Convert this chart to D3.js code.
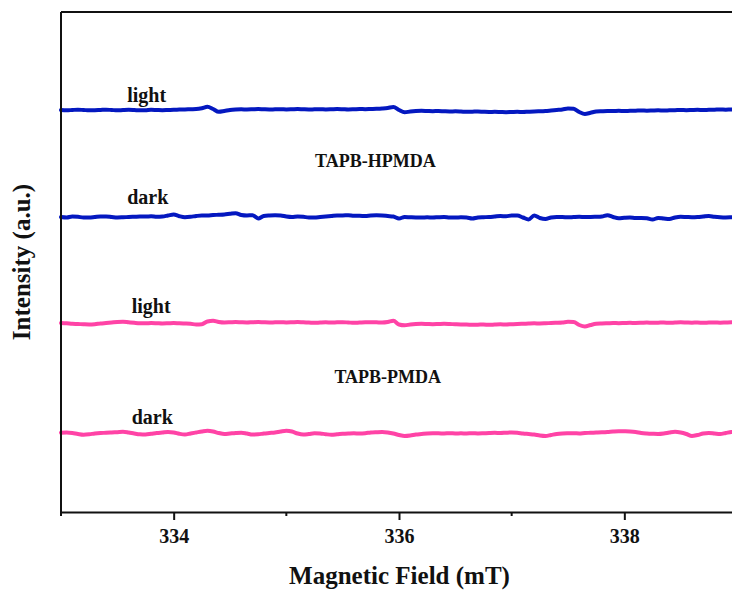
<!DOCTYPE html>
<html>
<head>
<meta charset="utf-8">
<script src="https://cdn.jsdelivr.net/npm/d3@7"></script>
<style>
  html, body { margin: 0; padding: 0; background: #fff; overflow: hidden; }
  svg { display: block; }
  text { font-family: "Liberation Serif", "Times New Roman", serif; font-weight: bold; fill: #111; }
</style>
</head>
<body>
<svg id="chart" width="732" height="590"></svg>
<script>
// Magnetic field sampling grid (mT), 0.05 mT steps
const field = d3.range(0, 121).map(i => +(333 + i * 0.05).toFixed(2));

// EPR signal traces (a.u.), deviation from each trace's baseline
const hpmdaLight = [
  0, -0.3, 0, 0.3, 0, -0.3, -0.2, 0, 0.3, 0,
  -0.3, 0, 0.2, 0, -0.3, -0.2, 0.2, 0, -0.2, 0,
  0.2, 0.4, 0.5, 0.8, 1, 1.8, 3.2, 1, -1.8, -1,
  0, 0.5, 0.7, 0.5, 0.7, 1, 0.7, 0.5, 0.7, 0.8,
  0.5, 0.7, 1, 0.7, 0.5, 0.7, 0.8, 0.5, 0.7, 1,
  0.8, 0.5, 0.7, 1, 0.8, 1, 1.2, 1.5, 2, 3,
  0, -2.3, -1.5, -1, -0.8, -1, -1.2, -1, -1.3, -1.5,
  -1.3, -1.5, -1.8, -1.7, -1.5, -1.8, -2, -1.8, -2, -2.2,
  -2, -1.8, -2, -1.7, -1.5, -1.3, -1, -0.5, 0, 0.5,
  1.5, 1.2, -2, -4, -2.8, -1.5, -1.2, -1, -1, -0.8,
  -1, -0.8, -0.7, -0.5, -0.7, -0.5, -0.3, -0.5, -0.3, -0.2,
  0, -0.2, 0, 0.2, 0, 0.2, 0.3, 0.5, 0.3, 0.5,
  0.5
];
const hpmdaDark = [
  0, -0.5, 0.5, 0.2, -0.5, -0.5, 0, 0.5, 0.5, 0,
  -0.5, -0.3, 0, 0.2, 0.5, 0.5, 0.7, 0.2, 0.5, 1.5,
  2.5, 0.8, -0.2, 0.2, 1, 1.5, 1.5, 2, 2.2, 2.5,
  3.2, 3.8, 2, 1.5, 1.8, -1.5, 1, 1.5, 1.7, 1.5,
  0.5, 0, 0.5, 0.2, -0.5, -0.5, 0, 0.5, 1, 1.5,
  1.5, 1.8, 1.2, 1.2, 1, 1.5, 1.7, 1.5, 1, 0.5,
  -1.5, 0, -0.3, -0.5, -0.5, -0.3, -0.5, -0.2, 0, -0.5,
  -0.5, -0.3, -0.5, -1.5, -0.5, -0.2, 0, 0.5, 1, 0.7,
  1.5, 1.5, -0.5, -2.5, 1.5, -1, -2, -0.5, 0, 0,
  -0.3, 0, 0.2, 0, 0, 0.2, 0.5, 1.8, 0, -1.3,
  -0.8, -0.5, -1, -1, -1.3, -2.5, -1, -1.5, -2, -0.5,
  0.2, 0, -0.2, 0, 0.5, 1, 0.2, -0.3, -0.5, -0.3,
  0
];
const pmdaLight = [
  0, -0.3, -0.8, -1, -1.3, -1.5, -1.2, -0.5, 0, 0.5,
  1, 1.2, 0.7, 0.2, -0.2, -0.3, 0, -0.2, -0.5, -0.3,
  0, -0.3, -0.5, -0.8, -1.5, -1.2, 1.5, 2.2, 1, 0.5,
  0.7, 1, 0.7, 0.5, 0.8, 1, 0.7, 0.5, 0.7, 0.8,
  0.5, 0.7, 1, 0.7, 0.5, 0.2, 0.5, 0.7, 0.5, 0.7,
  0.8, 0.5, 0.2, 0.5, 0.7, 0.8, 0.7, 0.5, 1, 2.2,
  -1.5, -2.3, -1.5, -1, -0.8, -1, -1.2, -1, -0.8, -1,
  -1.3, -1.5, -1.5, -1.8, -1.7, -1.5, -1.8, -1.5, -1.3, -1.5,
  -1.2, -1, -0.8, -0.5, -0.3, -0.5, -0.3, 0, 0.2, 0.5,
  1.2, 1, -2, -3.5, -2, -0.8, -0.5, -0.3, 0, -0.2,
  0, 0.2, 0, 0.2, 0.5, 0.2, 0.3, 0.5, 0.2, 0.5,
  0.7, 0.5, 0.3, 0.5, 0.2, 0.4, 0.5, 0.3, 0.5, 0.7,
  0.5
];
const pmdaDark = [
  0.3, 0.5, 0, -1, -1.7, -1.3, -0.5, 0, 0.2, 0.5,
  0.8, 1.2, 0.5, -0.5, -1.3, -1.5, -0.8, 0, 0.5, 1,
  0.5, -0.8, -1.5, -0.5, 0.5, 1.5, 2.2, 1.5, 0, -1,
  -0.5, 0, 0.3, -0.5, -1.5, -1.3, -0.5, 0, 0.5, 1.5,
  2.2, 1.5, -0.5, -1.5, -1, -0.3, -0.5, -1.2, -1.7, -1.3,
  -0.8, -0.5, -0.3, -0.5, -0.2, 0.5, 0.8, 1, 0.5, -0.5,
  -2, -3, -2.5, -1.5, -1, -0.5, -0.3, -0.3, -0.5, -0.2,
  -0.5, -0.3, -0.5, -0.2, -0.5, -0.3, 0, 0.2, 0, 0.3,
  0.5, 0.2, -0.5, -1, -1.5, -2.5, -3, -2, -1, -0.5,
  -0.3, -0.2, -0.5, 0, 0.2, 0.5, 0.7, 1, 1.5, 1.8,
  1.7, 1.5, 1, 0, -0.5, -0.8, -1, -0.5, 0.5, 1.2,
  0.5, -1, -3, -2, -0.5, 0, -0.5, -1, 0, 1,
  1.3
];

// Vertical stacking offsets of the four traces (a.u.)
const traceNames = ["TAPB-HPMDA light", "TAPB-HPMDA dark", "TAPB-PMDA light", "TAPB-PMDA dark"];
const traceData = [hpmdaLight, hpmdaDark, pmdaLight, pmdaDark];
const traceOffsets = [402, 295, 189, 79];
const traceColors = ["#0418c0", "#0418c0", "#ff43a6", "#ff43a6"];

// Annotations
const stateLabels = ["light", "dark", "light", "dark"];
const stateLabelPos = [[333.76, 410.3], [333.77, 308], [333.80, 199], [333.81, 88]];
const sampleLabels = ["TAPB-HPMDA", "TAPB-PMDA"];
const sampleLabelPos = [[335.79, 345], [335.90, 128.7]];

const majorTicks = [334, 336, 338];
const minorTicks = [333, 335, 337, 339];
const xTitle = "Magnetic Field (mT)";
const yTitle = "Intensity (a.u.)";

const svg = d3.select("#chart");
const plot = { left: 61, right: 737, top: 12, bottom: 512 };

const x = d3.scaleLinear().domain([333, 339]).range([plot.left, plot.right]);
const y = d3.scaleLinear().domain([0, 500]).range([plot.bottom, plot.top]);

// traces
const line = d3.line()
  .x(d => x(d[0]))
  .y(d => y(d[1]))
  .curve(d3.curveMonotoneX);

traceData.forEach((vals, k) => {
  const pts = field.map((f, i) => [f, traceOffsets[k] + vals[i]]);
  svg.append("path")
    .datum(pts)
    .attr("class", "trace")
    .attr("data-name", traceNames[k])
    .attr("fill", "none")
    .attr("stroke", traceColors[k])
    .attr("stroke-width", 4)
    .attr("stroke-linejoin", "round")
    .attr("stroke-linecap", "round")
    .attr("d", line);
});

// frame: left and top edges
svg.append("line")
  .attr("x1", plot.left).attr("x2", plot.left)
  .attr("y1", plot.top).attr("y2", plot.bottom)
  .attr("stroke", "#111").attr("stroke-width", 2);
svg.append("line")
  .attr("x1", plot.left).attr("x2", plot.right)
  .attr("y1", plot.top).attr("y2", plot.top)
  .attr("stroke", "#111").attr("stroke-width", 2);

// bottom axis with major and minor ticks
const xAxis = svg.append("g")
  .attr("transform", `translate(0,${plot.bottom})`)
  .call(d3.axisBottom(x).tickValues(majorTicks).tickFormat(d3.format("d"))
    .tickSizeInner(8).tickSizeOuter(0).tickPadding(9));
xAxis.select(".domain").attr("stroke", "#111").attr("stroke-width", 2);
xAxis.selectAll(".tick line").attr("stroke", "#111").attr("stroke-width", 2);
xAxis.selectAll(".tick text")
  .attr("font-size", 20)
  .attr("font-family", "'Liberation Serif', 'Times New Roman', serif")
  .attr("font-weight", "bold")
  .attr("fill", "#111");

xAxis.selectAll(".minor")
  .data(minorTicks)
  .enter().append("line")
  .attr("class", "minor")
  .attr("x1", d => x(d)).attr("x2", d => x(d))
  .attr("y1", 0).attr("y2", 4)
  .attr("stroke", "#111").attr("stroke-width", 2);

// axis titles
svg.append("text")
  .attr("x", (plot.left + plot.right - 5) / 2 + 3)
  .attr("y", 584)
  .attr("text-anchor", "middle")
  .attr("font-size", 25)
  .text(xTitle);

svg.append("text")
  .attr("transform", `translate(30,262) rotate(-90)`)
  .attr("text-anchor", "middle")
  .attr("font-size", 25)
  .text(yTitle);

// trace labels
svg.selectAll(".state-label")
  .data(stateLabels)
  .enter().append("text")
  .attr("class", "state-label")
  .attr("x", (d, i) => x(stateLabelPos[i][0]))
  .attr("y", (d, i) => y(stateLabelPos[i][1]))
  .attr("text-anchor", "middle")
  .attr("font-size", 20)
  .text(d => d);

svg.selectAll(".sample-label")
  .data(sampleLabels)
  .enter().append("text")
  .attr("class", "sample-label")
  .attr("x", (d, i) => x(sampleLabelPos[i][0]))
  .attr("y", (d, i) => y(sampleLabelPos[i][1]))
  .attr("text-anchor", "middle")
  .attr("font-size", 18)
  .text(d => d);
</script>
</body>
</html>
